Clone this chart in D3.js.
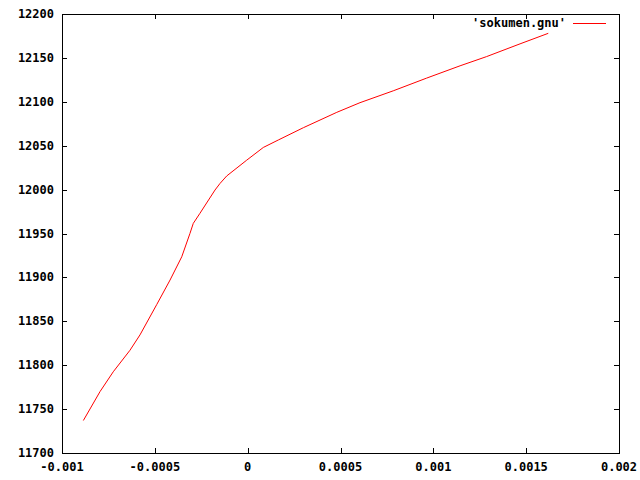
<html>
<head>
    <script src="https://d3js.org/d3.v7.min.js"></script>
    <style>
        body { margin: 0; background: #fff; }
        text { font-family: "DejaVu Sans Mono", "Liberation Mono", monospace; font-weight: bold; font-size: 12px; fill: #000; }
    </style>
</head>
<body>
    <svg id="svgMain" width="640" height="480"></svg>
    <script>
        // values
        const xValues = [-0.000885, -0.000795, -0.000724, -0.000634, -0.000580, -0.000490, -0.000418,
            -0.000355, -0.000311, -0.000293, -0.000257, -0.000176, -0.000149, -0.000113, -0.0000052,
            0.0000842, 0.000165, 0.000300, 0.000480, 0.000605, 0.000784, 0.000964,
            0.001144, 0.001287, 0.001467, 0.001619];
        const yValues = [11737, 11770, 11792.5, 11817, 11834.5, 11869, 11897,
            11923.5, 11950, 11961.5, 11973, 11999.5, 12007, 12015.5, 12033.5,
            12048, 12056.5, 12070.5, 12088, 12099, 12112.5, 12127,
            12141, 12151.5, 12166, 12178];

        const xTicks = [-0.001, -0.0005, 0, 0.0005, 0.001, 0.0015, 0.002];
        const xTickLabels = ["-0.001", "-0.0005", "0", "0.0005", "0.001", "0.0015", "0.002"];
        const yTicks = [11700, 11750, 11800, 11850, 11900, 11950, 12000, 12050, 12100, 12150, 12200];
        const seriesName = "'sokumen.gnu'";

        const svg = d3.select("#svgMain");
        const plotLeft = 62, plotRight = 619, plotTop = 14, plotBottom = 453;

        let x = d3.scaleLinear().domain([-0.001, 0.002]).range([plotLeft, plotRight]);
        let y = d3.scaleLinear().domain([11700, 12200]).range([plotBottom, plotTop]);

        const tickLen = 5;

        // gnuplot style: ticks inside, mirrored
        let axes = svg.append("g").attr("shape-rendering", "crispEdges")
            .attr("stroke", "#000").attr("stroke-width", 1);

        xTicks.forEach(t => {
            let px = Math.round(x(t)) + 0.5;
            axes.append("line").attr("x1", px).attr("x2", px).attr("y1", plotBottom).attr("y2", plotBottom - tickLen);
            axes.append("line").attr("x1", px).attr("x2", px).attr("y1", plotTop).attr("y2", plotTop + tickLen);
        });
        yTicks.forEach(t => {
            let py = Math.round(y(t)) + 0.5;
            axes.append("line").attr("x1", plotLeft).attr("x2", plotLeft + tickLen).attr("y1", py).attr("y2", py);
            axes.append("line").attr("x1", plotRight).attr("x2", plotRight - tickLen).attr("y1", py).attr("y2", py);
        });

        axes.append("rect")
            .attr("x", plotLeft + 0.5).attr("y", plotTop + 0.5)
            .attr("width", plotRight - plotLeft).attr("height", plotBottom - plotTop)
            .attr("fill", "none");

        svg.append("g").selectAll("text")
            .data(xTicks)
            .join("text")
            .attr("x", d => x(d))
            .attr("y", 471)
            .attr("text-anchor", "middle")
            .text((d, i) => xTickLabels[i]);

        svg.append("g").selectAll("text")
            .data(yTicks)
            .join("text")
            .attr("x", plotLeft - 8)
            .attr("y", d => y(d) + 4)
            .attr("text-anchor", "end")
            .text(d => d);

        let points = xValues.map((d, i) => [d, yValues[i]]);

        let lineGen = d3.line()
            .x(d => x(d[0]))
            .y(d => y(d[1]));

        svg.append("path")
            .datum(points)
            .attr("fill", "none")
            .attr("stroke", "#ff0000")
            .attr("stroke-width", 1)
            .attr("d", lineGen);

        // key
        svg.append("text")
            .attr("x", 566)
            .attr("y", 27)
            .attr("text-anchor", "end")
            .text(seriesName);
        svg.append("line")
            .attr("x1", 573).attr("x2", 606)
            .attr("y1", 23.5).attr("y2", 23.5)
            .attr("stroke", "#ff0000")
            .attr("shape-rendering", "crispEdges");
    </script>
</body>
</html>
